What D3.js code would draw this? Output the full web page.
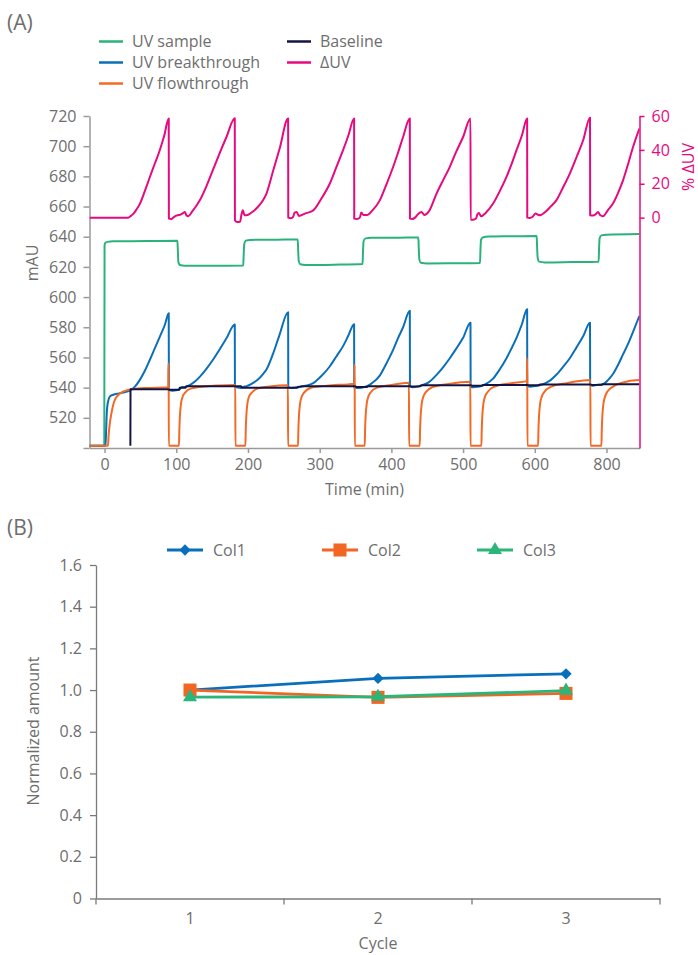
<!DOCTYPE html>
<html>
<head>
<meta charset="utf-8">
<script src="https://cdn.jsdelivr.net/npm/d3@7"></script>
<style>
  body { margin: 0; background: #fff; }
  text { font-family: "Open Sans", sans-serif; }
</style>
</head>
<body>
<svg id="chart" width="698" height="955"></svg>
<script>
// ---- panel A data: [time (min), value] ----
var uvSample = [[-21,501.5],[-0.4,501.5],[0,634],[0.8,635.8],[4,636.6],[12,637],[60,637.1],[101.6,637.3],[102.2,631],[103,623],[105,621.3],[112,620.8],[150,620.7],[193.4,620.9],[194,628],[194.8,635],[197,637.4],[203,637.9],[240,638],[269.4,638.2],[270,631],[270.8,624],[273,621.8],[280,621.3],[320,621.5],[359.8,621.9],[360.4,630],[361.2,637],[364,638.9],[372,639.3],[410,639.4],[437.6,639.5],[438.2,632],[439,625],[441,622.8],[450,622.3],[490,622.4],[523.6,622.6],[524.2,631],[525,638],[528,639.7],[536,640.1],[570,640.3],[602.6,640.5],[603.2,633],[604,626],[606,623.5],[614,623],[650,623.2],[689,623.5],[689.6,632],[690.4,639],[693,640.9],[700,641.3],[746,641.8]];

var uvBreakthrough = [[-21,501.5],[1.4,501.5],[2.2,512],[3.2,524],[4.5,530],[7.3,534],[12,535.3],[20,536.2],[28,537],[35,538],[42,540.5],[49,545],[56,551],[63,558.3],[70,566],[77,573.7],[84,581.5],[89.5,589.3],
  [89.7,538.4],[95,538],[100,538.2],[105,539],[107,540.3],[113,540.5],[119,541.7],[126,544],[133,547.3],[142,552.5],[151,558.3],[160,565],[170,572.7],[181.6,581.9],
  [181.8,540.6],[186,540],[190,539.8],[193,540.5],[198,541],[205,542.5],[213,545],[221,549],[225.8,552],[235,562.5],[244,575],[256,590],
  [256.2,540.3],[260,539.8],[265,540],[271,540.3],[280,541.2],[291,543],[302,547.5],[314,554],[323,560.5],[332.6,567.5],[340,574.5],[348,582],
  [348.2,540.2],[352,539.8],[358,540],[366,541],[373,543],[383.8,548],[393,556],[402.4,565],[409,572.5],[416.3,580],[425.7,591],
  [425.9,540.8],[430,540.3],[437,540.8],[442,541.5],[452,543.5],[463,548.5],[472,553.5],[481.5,559.5],[490,565.5],[500,573],[510.3,583],
  [510.5,540.5],[514,540.2],[520,540.5],[525,541],[532,542.5],[541.8,546],[551,552],[560.5,559.5],[567,565.5],[574.5,573],[582,582],[589.3,592],
  [589.5,541],[594,540.6],[600,541],[607,541.6],[615,543],[622,545],[630,548.5],[639,553.5],[648.8,559.5],[658,566.5],[667.4,574],[677,583],
  [677.2,541.8],[681,541.3],[686,541.8],[695,542.3],[702,545],[709,549],[716,555],[723,562],[730,569],[737,577],[745.8,587.5]];

var uvFlowthrough = [[-21,501.5],[4.8,501.5],[5.6,508],[7,515],[9.6,523],[12,528.5],[14.2,531.8],[18,534.5],[25.8,537.3],[39.7,539.1],[60,539.8],[88.8,540.2],[89,556],[89.4,556],[89.6,501.5],
  [103.8,501.5],[104.3,512],[105.2,522],[106.5,529],[108.5,533.5],[112,536.5],[121,539.5],[140,540.8],[160,541.4],[182.3,541.7],[182.5,501.5],
  [196.4,501.5],[196.9,512],[197.8,522],[199.1,529],[201,533.5],[205,536.5],[214,539.5],[230,540.8],[255.7,541.6],[255.9,501.5],
  [269.8,501.5],[270.3,512],[271.2,522],[272.5,529],[274.5,533.5],[278,536.5],[287,539.8],[310,541.3],[348.3,542.6],[348.5,555],[348.8,555],[349,501.5],
  [362.8,501.5],[363.3,512],[364.2,522],[365.5,529],[367.5,533.5],[371,536.8],[380,540],[400,541.8],[424.5,543.2],[424.7,501.5],
  [439.5,501.5],[440,512],[440.9,522],[442.2,529],[444.2,533.5],[448,537],[457,540.3],[480,542.5],[510.1,543.9],[510.3,501.5],
  [525.5,501.5],[526,512],[526.9,522],[528.2,529],[530.2,533.5],[534,537],[543,540.5],[565,542.8],[589,544.3],[589.2,559.4],[589.5,559.4],[589.7,501.5],
  [604.6,501.5],[605.1,512],[606,522],[607.3,529],[609.3,533.5],[613,537],[622,540.5],[645,543],[677.5,545],[677.7,501.5],
  [692.9,501.5],[693.4,512],[694.3,522],[695.6,529],[697.6,533.5],[701,537.3],[710,541],[730,544.2],[745.8,545]];

var baseline = [[36,501.5],[36.2,539],[60,539],[88,539],[90,538.6],[104,538.6],[105,540],[113,540],[114,541],[190,541],[191.5,540],[268,540],[270,540.5],[276,541],[349,541],[351,540.5],[366,540.5],[368,541],[426,541],[428,540.8],[440,541],[442,541.5],[511,541.5],[513,541.2],[526,541.3],[528,541.8],[590,541.8],[592,541.5],[605,541.6],[607,542],[678,542],[680,541.8],[693,541.9],[695,542.2],[745.8,542.2]];

// percent delta UV, right axis
var deltaUV = [[-21,0],[33,0],[36,0.8],[40,2.2],[44,4.5],[49.4,8.3],[56,15.5],[63.2,24],[70,31.8],[77,39.8],[83,48],[89.5,58.5],
  [89.7,-0.6],[93,-0.8],[97,0.5],[100,1.2],[103,1.5],[106,1.8],[109,2.5],[112,3.3],[114,1.5],[116.6,0.8],[122,3.5],[128,7],[132.8,10.2],[142,18.5],[151,28],[160,37.5],[170,47.6],[181.6,58.6],
  [181.8,-1.5],[185,-2.6],[189,-2.4],[191,2],[193,4.3],[195,1.4],[198,1.4],[205,3],[213,6],[221,10.2],[225.8,14.2],[235,27.5],[244,40.5],[256,58.5],
  [256.2,0],[260,-0.3],[263,0.5],[265,3],[268,3.3],[271,1],[280,2.5],[291,4.3],[302,11],[314,20],[323,29.5],[332.6,39.8],[340,48.5],[348,58.5],
  [348.2,-0.6],[352,-0.8],[356,0],[358,3],[361,1.5],[366,1.5],[373,4],[383.8,10.2],[393,19.5],[402.4,29.9],[409,38],[416.3,47.6],[425.7,58.5],
  [425.9,-0.6],[429,-0.8],[433,0],[437,2],[442,3.3],[446,1.5],[452,3.5],[463,14.2],[472,22],[481.5,30],[490,38.5],[500,47.6],[510.3,58.5],
  [510.5,-1.2],[514,-1.2],[518,-0.5],[520,2],[522,2.7],[525,0.8],[532,3],[541.8,8.3],[551,15.5],[560.5,24],[567,31],[574.5,39.8],[582,48.5],[589.3,58.5],
  [589.5,0],[593,-0.2],[597,0.5],[601,2.4],[604,1.8],[607,1.4],[615,3.5],[622,6.5],[630,10.2],[639,17.5],[648.8,26],[658,35.5],[667.4,45.7],[677,59],
  [677.2,1.4],[681,1.2],[685,2],[688.3,3.3],[691,1.5],[695,0.8],[702,4.5],[709,8.3],[716,14.5],[723,22],[730,31.5],[737,41.7],[745.8,52.6]];

var timeTicks = [0, 100, 200, 300, 400, 500, 600, 700];
var timeTickLabels = ["0", "100", "200", "300", "400", "500", "600", "800"];
var mauTicks = [500, 520, 540, 560, 580, 600, 620, 640, 660, 680, 700, 720];
var deltaTicks = [0, 20, 40, 60];

// ---- panel B data ----
var cycles = ["1", "2", "3"];
var col1 = [1.0, 1.056, 1.078];
var col2 = [1.0, 0.965, 0.984];
var col3 = [0.966, 0.968, 0.997];
var normTicks = [0, 0.2, 0.4, 0.6, 0.8, 1.0, 1.2, 1.4, 1.6];

var grey = "#6e6e6e";
var axisGrey = "#9a9a9a";
var pink = "#e6097f";

var svg = d3.select("#chart");

// =========== panel A ===========
var x = d3.scaleLinear().domain([-21, 746]).range([89.5, 639.5]);
var y = d3.scaleLinear().domain([500, 720]).range([448, 116]);
var yR = d3.scaleLinear().domain([-136, 60]).range([448, 116]);

svg.append("text").attr("x", 7).attr("y", 30).style("font-size", "21px").attr("fill", grey).text("(A)");

svg.append("defs").append("clipPath").attr("id", "clipA")
  .append("rect").attr("x", 89.5).attr("y", 100).attr("width", 550).attr("height", 348);

var leftAxis = svg.append("g")
  .attr("transform", "translate(89.5,0)")
  .call(d3.axisLeft(y).tickValues(mauTicks).tickSize(6).tickSizeOuter(0).tickPadding(7)
    .tickFormat(function (d) { return d === 500 ? "" : d; }));

var bottomAxis = svg.append("g")
  .attr("transform", "translate(0,448)")
  .call(d3.axisBottom(x).tickValues(timeTicks).tickSize(5).tickSizeOuter(0).tickPadding(6)
    .tickFormat(function (d, i) { return timeTickLabels[i]; }));

[leftAxis, bottomAxis].forEach(function (g) {
  g.select(".domain").attr("stroke", axisGrey).attr("stroke-width", 1.5);
  g.selectAll(".tick line").attr("stroke", axisGrey).attr("stroke-width", 1.5);
  g.selectAll(".tick text").attr("fill", grey).style("font-size", "16px");
});

var line = d3.line()
  .x(function (d) { return x(d[0]); })
  .y(function (d) { return y(d[1]); })
  .curve(d3.curveMonotoneX);

var lineR = d3.line()
  .x(function (d) { return x(d[0]); })
  .y(function (d) { return yR(d[1]); })
  .curve(d3.curveMonotoneX);

var plot = svg.append("g").attr("clip-path", "url(#clipA)");

var traces = [
  { data: uvSample, color: "#2bb27b", gen: line },
  { data: uvBreakthrough, color: "#0b6fb8", gen: line },
  { data: uvFlowthrough, color: "#f26a25", gen: line },
  { data: baseline, color: "#141442", gen: d3.line().x(function (d) { return x(d[0]); }).y(function (d) { return y(d[1]); }) },
  { data: deltaUV, color: pink, gen: lineR }
];

plot.selectAll(".trace")
  .data(traces)
  .enter().append("path")
  .attr("class", "trace")
  .attr("fill", "none")
  .attr("stroke", function (d) { return d.color; })
  .attr("stroke-width", 2)
  .attr("stroke-linejoin", "round")
  .attr("d", function (d) { return d.gen(d.data); });

var rightAxis = svg.append("g")
  .attr("transform", "translate(639.5,0)")
  .call(d3.axisRight(yR).tickValues(deltaTicks).tickSize(5).tickSizeOuter(0).tickPadding(7));
rightAxis.select(".domain").attr("stroke", pink).attr("stroke-width", 1.5);
rightAxis.selectAll(".tick line").attr("stroke", pink).attr("stroke-width", 1.5);
rightAxis.selectAll(".tick text").attr("fill", pink).style("font-size", "16px");

svg.append("text")
  .attr("transform", "translate(38,263) rotate(-90)")
  .attr("text-anchor", "middle")
  .attr("fill", grey).style("font-size", "16px")
  .text("mAU");

svg.append("text")
  .attr("transform", "translate(694,167) rotate(-90)")
  .attr("text-anchor", "middle")
  .attr("fill", pink).style("font-size", "16px")
  .text("% ΔUV");

svg.append("text")
  .attr("x", 364.5).attr("y", 495)
  .attr("text-anchor", "middle")
  .attr("fill", grey).style("font-size", "16px")
  .text("Time (min)");

// legend A
var legendA = [
  { label: "UV sample", color: "#2bb27b", col: 0, row: 0 },
  { label: "UV breakthrough", color: "#0b6fb8", col: 0, row: 1 },
  { label: "UV flowthrough", color: "#f26a25", col: 0, row: 2 },
  { label: "Baseline", color: "#141442", col: 1, row: 0 },
  { label: "ΔUV", color: pink, col: 1, row: 1 }
];
var legA = svg.selectAll(".legA")
  .data(legendA)
  .enter().append("g")
  .attr("class", "legA")
  .attr("transform", function (d) { return "translate(" + (99 + d.col * 188) + "," + (41.5 + d.row * 21) + ")"; });
legA.append("line")
  .attr("x1", 0).attr("x2", 24)
  .attr("stroke", function (d) { return d.color; })
  .attr("stroke-width", 2.5);
legA.append("text")
  .attr("x", 33).attr("dy", "0.35em")
  .attr("fill", grey).style("font-size", "16px")
  .text(function (d) { return d.label; });

// =========== panel B ===========
var xB = d3.scaleBand().domain(cycles).range([96, 660]);
var yB = d3.scaleLinear().domain([0, 1.6]).range([898.5, 565]);
var bGrey = "#7a7a7a";

svg.append("text").attr("x", 7).attr("y", 535).style("font-size", "21px").attr("fill", grey).text("(B)");

var yAxisB = svg.append("g")
  .attr("transform", "translate(96,0)")
  .call(d3.axisLeft(yB).tickValues(normTicks).tickSize(6).tickSizeOuter(0).tickPadding(8)
    .tickFormat(function (d) { return d === 0 ? "0" : d3.format(".1f")(d); }));

var xAxisB = svg.append("g")
  .attr("transform", "translate(0,898.5)")
  .call(d3.axisBottom(xB).tickSize(0).tickSizeOuter(0).tickPadding(14));

// category boundary ticks
xAxisB.selectAll(".bound")
  .data(d3.range(cycles.length + 1))
  .enter().append("line")
  .attr("class", "bound")
  .attr("x1", function (i) { return xB.range()[0] + i * xB.step(); })
  .attr("x2", function (i) { return xB.range()[0] + i * xB.step(); })
  .attr("y1", 0).attr("y2", 6);

[yAxisB, xAxisB].forEach(function (g) {
  g.select(".domain").attr("stroke", bGrey).attr("stroke-width", 1.3);
  g.selectAll(".tick line, .bound").attr("stroke", bGrey).attr("stroke-width", 1.3);
  g.selectAll(".tick text").attr("fill", grey).style("font-size", "16px");
});

svg.append("text")
  .attr("transform", "translate(39,731) rotate(-90)")
  .attr("text-anchor", "middle")
  .attr("fill", grey).style("font-size", "16px")
  .text("Normalized amount");

svg.append("text")
  .attr("x", 378).attr("y", 949)
  .attr("text-anchor", "middle")
  .attr("fill", grey).style("font-size", "16px")
  .text("Cycle");

var seriesB = [
  { name: "Col1", values: col1, color: "#0a6fbb", symbol: d3.symbolSquare, size: 64, rotate: 45 },
  { name: "Col2", values: col2, color: "#f26522", symbol: d3.symbolSquare, size: 170, rotate: 0 },
  { name: "Col3", values: col3, color: "#2bb57b", symbol: d3.symbolTriangle, size: 85, rotate: 0 }
];

var lineB = d3.line()
  .x(function (d, i) { return xB(cycles[i]) + xB.bandwidth() / 2; })
  .y(function (d) { return yB(d); });

var gB = svg.selectAll(".seriesB")
  .data(seriesB)
  .enter().append("g")
  .attr("class", "seriesB");

gB.append("path")
  .attr("fill", "none")
  .attr("stroke", function (d) { return d.color; })
  .attr("stroke-width", 2.8)
  .attr("d", function (d) { return lineB(d.values); });

gB.each(function (s) {
  d3.select(this).selectAll(".mark")
    .data(s.values)
    .enter().append("path")
    .attr("class", "mark")
    .attr("fill", s.color)
    .attr("transform", function (d, i) {
      return "translate(" + (xB(cycles[i]) + xB.bandwidth() / 2) + "," + yB(d) + ") rotate(" + s.rotate + ")";
    })
    .attr("d", d3.symbol().type(s.symbol).size(s.size));
});

// legend B
var legB = svg.selectAll(".legB")
  .data(seriesB)
  .enter().append("g")
  .attr("class", "legB")
  .attr("transform", function (d, i) { return "translate(" + (167 + i * 155) + ",550)"; });
legB.append("line")
  .attr("x1", 0).attr("x2", 36)
  .attr("stroke", function (d) { return d.color; })
  .attr("stroke-width", 2.8);
legB.append("path")
  .attr("fill", function (d) { return d.color; })
  .attr("transform", function (d) { return "translate(18,0) rotate(" + d.rotate + ")"; })
  .attr("d", function (d) { return d3.symbol().type(d.symbol).size(d.size)(); });
legB.append("text")
  .attr("x", 46).attr("dy", "0.35em")
  .attr("fill", grey).style("font-size", "16px")
  .text(function (d) { return d.name; });
</script>
</body>
</html>
